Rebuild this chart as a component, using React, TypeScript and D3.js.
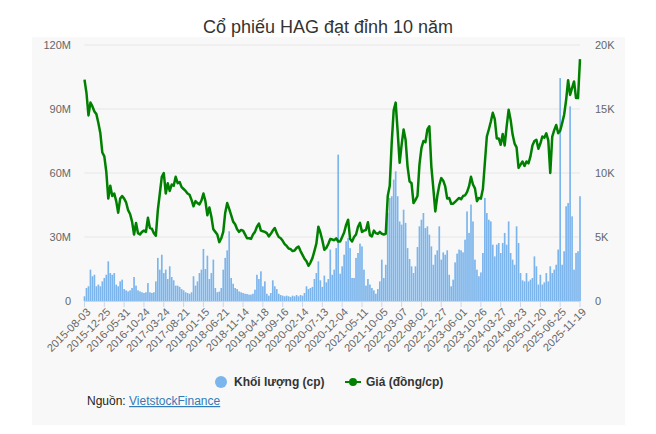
import React from "react";
import * as d3 from "d3";

// HAG, sampled every 10 trading sessions from 2015-08-03
const STEP = 10;
const priceK = [
  17.3, 16.25, 14.5, 15.5, 15.2, 14.8, 14.6, 13.9, 13.1, 11.6, 11.3, 10.1, 8.0, 9.0, 8.2, 8.4, 7.8, 6.9, 8.0, 8.2,
  8.0, 7.7, 7.1, 6.8, 6.2, 5.2, 6.1, 5.3, 5.2, 5.4, 5.5, 5.4, 6.5, 5.7, 5.65, 5.3, 5.1, 7.1, 8.4, 9.7,
  10.0, 8.4, 9.2, 8.6, 9.1, 9.0, 9.7, 9.2, 9.3, 8.9, 8.75, 8.6, 8.4, 8.3, 7.9, 7.4, 7.8, 7.65, 7.55, 7.85,
  8.4, 7.8, 6.7, 7.3, 6.6, 5.6, 5.4, 5.2, 4.6, 4.9, 5.4, 6.9, 7.65, 7.2, 6.7, 6.2, 6.0, 5.6, 5.4, 5.55,
  5.5, 5.2, 4.9, 4.9, 4.85, 5.2, 5.4, 5.8, 6.05, 5.5, 5.45, 5.4, 5.3, 5.05, 5.25, 5.5, 5.7, 5.3, 5.0, 4.9,
  4.7, 4.45, 4.3, 4.1, 4.05, 3.9, 3.95, 4.15, 4.25, 3.9, 3.6, 3.3, 3.1, 2.75, 3.0, 3.35, 3.9, 4.5, 5.8, 5.35,
  4.75, 4.0, 4.15, 4.45, 4.85, 4.8, 4.75, 4.9, 4.65, 4.65, 5.0, 5.35, 5.95, 6.35, 4.85, 4.65, 5.0, 5.2, 5.8, 6.1,
  5.4, 5.5, 5.55, 6.15, 5.15, 5.05, 5.5, 5.3, 5.25, 5.4, 5.25, 5.2, 5.25, 8.2, 9.0, 12.35, 14.9, 15.5, 13.25, 10.8,
  12.2, 13.4, 12.6, 10.5, 9.35, 9.2, 7.65, 7.9, 8.2, 10.65, 11.95, 12.5, 12.4, 13.4, 13.65, 10.5, 8.8, 7.0, 8.2, 9.05,
  9.6, 9.4, 8.95, 8.0, 8.05, 7.6, 7.6, 7.75, 7.9, 8.05, 7.95, 8.2, 8.25, 8.5, 8.95, 9.7, 9.1, 8.8, 7.8, 8.05,
  8.0, 8.75, 10.8, 12.85, 13.4, 14.0, 14.7, 14.2, 12.7, 12.7, 12.2, 13.05, 12.15, 13.65, 14.95, 14.15, 13.0, 12.3, 12.0, 10.4,
  10.65, 10.9, 10.55, 10.9, 10.75, 11.3, 12.15, 12.5, 12.6, 11.9, 12.3, 12.85, 12.75, 13.1, 12.55, 10.0, 12.85, 13.35, 13.75, 13.1,
  13.3, 13.9, 14.55, 15.7, 17.25, 16.1, 16.65, 17.15, 15.85, 15.85, 18.9,
];
const volumeM = [
  2.2, 6.1, 6.9, 14.7, 11.6, 12.3, 6.9, 7.7, 6.9, 9.2, 10.8, 12.3, 18.6, 13.1, 12.3, 13.1, 7.7, 6.9, 9.2, 10.0,
  5.6, 5.0, 4.5, 5.0, 6.1, 11.25, 7.2, 5.0, 4.5, 4.1, 3.75, 4.1, 8.4, 4.1, 3.75, 4.1, 9.2, 20.2, 14.7, 21.7,
  13.1, 14.7, 10.3, 16.25, 11.25, 9.7, 7.2, 7.2, 6.6, 5.6, 5.0, 4.1, 3.75, 3.4, 4.1, 11.6, 7.2, 9.2, 13.1, 14.7,
  24.4, 15.0, 21.25, 10.3, 13.1, 19.4, 6.1, 4.1, 4.4, 6.1, 14.7, 20.2, 23.75, 32.7, 10.8, 8.1, 6.1, 5.6, 4.5, 4.1,
  3.75, 3.4, 3.3, 3.0, 3.0, 3.4, 5.3, 12.3, 10.3, 13.9, 6.9, 9.2, 3.4, 2.5, 3.75, 9.7, 6.9, 5.6, 3.4, 2.8,
  2.5, 2.2, 2.5, 2.2, 1.9, 2.5, 2.2, 2.8, 2.2, 2.8, 2.5, 3.75, 6.9, 5.6, 6.1, 6.6, 10.3, 13.1, 18.6, 9.7,
  6.6, 11.9, 8.75, 10.3, 24.1, 12.3, 14.7, 24.8, 68.6, 12.8, 16.25, 21.7, 28.0, 29.5, 24.8, 10.8, 10.8, 20.2, 22.5, 26.9,
  25.6, 14.7, 7.2, 10.3, 7.7, 6.1, 5.0, 3.4, 5.6, 9.2, 19.4, 10.8, 17.0, 41.25, 48.3, 49.1, 56.9, 60.8, 49.1, 37.3,
  35.8, 42.8, 36.6, 24.8, 19.7, 16.25, 13.1, 16.25, 25.3, 35.0, 38.1, 41.25, 34.2, 35.0, 31.1, 25.6, 17.0, 21.7, 23.75, 35.0,
  19.4, 22.8, 21.7, 23.75, 12.3, 6.9, 10.0, 18.1, 22.2, 24.1, 23.75, 22.8, 28.75, 42.0, 31.9, 45.2, 37.3, 19.4, 14.7, 11.6,
  13.4, 22.5, 48.3, 41.25, 38.1, 37.3, 26.4, 20.9, 26.4, 27.2, 22.5, 27.2, 31.9, 26.4, 37.3, 22.5, 19.4, 17.0, 35.0, 27.2,
  13.1, 9.7, 9.2, 13.1, 9.2, 10.0, 10.8, 20.9, 16.25, 7.7, 12.3, 7.7, 8.75, 13.1, 9.2, 16.25, 13.1, 14.7, 17.0, 24.1,
  104.5, 17.0, 23.3, 44.4, 45.9, 91.25, 39.7, 14.7, 22.5, 23.3, 49.1,
];
// category labels, one every 100 sessions
const tickLabels = [
  "2015-08-03", "2015-12-25", "2016-05-31", "2016-10-24", "2017-03-24", "2017-08-21", "2018-01-15",
  "2018-06-21", "2018-11-14", "2019-04-18", "2019-09-16", "2020-02-14", "2020-07-13", "2020-12-04",
  "2021-05-11", "2021-10-05", "2022-03-07", "2022-08-02", "2022-12-27", "2023-06-01", "2023-10-26",
  "2024-03-27", "2024-08-23", "2025-01-20", "2025-06-25", "2025-11-19",
];
const volTicks = [0, 30, 60, 90, 120];
const priceTicks = [0, 5, 10, 15, 20];

const W = 656;
const H = 434;
const font = "'Liberation Sans', Arial, sans-serif";

export default function App() {
  const left = 84.5;
  const right = 580;
  const top = 45;
  const bottom = 301;
  const lastIdx = (priceK.length - 1) * STEP;

  const x = d3.scaleLinear().domain([0, lastIdx]).range([left, right]);
  const yVol = d3.scaleLinear().domain([0, 120]).range([bottom, top]);
  const yPrice = d3.scaleLinear().domain([0, 20]).range([bottom, top]);

  const barW = ((right - left) / volumeM.length) * 0.85;
  const line = d3
    .line<number>()
    .x((_, i) => x(i * STEP))
    .y((d) => yPrice(d));

  return (
    <svg width={W} height={H} style={{ position: "absolute", left: 0, top: 0 }} fontFamily={font}>
      <rect x={0} y={0} width={W} height={H} fill="#fff" />
      <rect x={32} y={37} width={593} height={388} fill="#f8f8f8" />
      <text x={328} y={33} textAnchor="middle" fontSize={18} fill="#333">
        Cổ phiếu HAG đạt đỉnh 10 năm
      </text>

      {/* grid */}
      {volTicks.slice(1).map((v) => (
        <line key={v} x1={left} x2={right} y1={yVol(v)} y2={yVol(v)} stroke="#e6e6e6" />
      ))}

      {/* left axis */}
      {volTicks.map((v) => (
        <text key={v} x={71} y={yVol(v)} dy="0.35em" textAnchor="end" fontSize={11} fill="#666">
          {v === 0 ? "0" : `${v}M`}
        </text>
      ))}
      {/* right axis */}
      {priceTicks.map((v) => (
        <text key={v} x={595} y={yPrice(v)} dy="0.35em" fontSize={11} fill="#666">
          {v === 0 ? "0" : `${v}K`}
        </text>
      ))}

      {/* volume bars */}
      {volumeM.map((v, i) => (
        <rect
          key={i}
          x={x(i * STEP) - barW / 2}
          y={yVol(v)}
          width={barW}
          height={bottom - yVol(v)}
          fill="#7cb5ec"
        />
      ))}

      {/* x axis */}
      <line x1={left} x2={right} y1={bottom + 0.5} y2={bottom + 0.5} stroke="#ccd6eb" />
      {tickLabels.map((t, i) => {
        const tx = x(i * 100);
        return (
          <g key={t}>
            <line x1={tx} x2={tx} y1={bottom} y2={bottom + 6} stroke="#ccd6eb" />
            <text
              transform={`translate(${tx + 4},${bottom + 9}) rotate(-45)`}
              textAnchor="end"
              dy="0.35em"
              fontSize={11}
              fill="#666"
            >
              {t}
            </text>
          </g>
        );
      })}

      {/* price line */}
      <path d={line(priceK) ?? ""} fill="none" stroke="#008000" strokeWidth={2.5} strokeLinejoin="round" />

      {/* legend */}
      <circle cx={221} cy={382} r={6} fill="#7cb5ec" />
      <text x={234} y={386} fontSize={12} fontWeight="bold" fill="#333">
        Khối lượng (cp)
      </text>
      <line x1={345} x2={361} y1={382} y2={382} stroke="#008000" strokeWidth={2} />
      <circle cx={353} cy={382} r={4} fill="#008000" />
      <text x={366} y={386} fontSize={12} fontWeight="bold" fill="#333">
        Giá (đồng/cp)
      </text>

      <text x={87} y={405} fontSize={12} fill="#222">
        Nguồn:{" "}
        <tspan fill="#337ab7" textDecoration="underline">
          VietstockFinance
        </tspan>
      </text>
    </svg>
  );
}
